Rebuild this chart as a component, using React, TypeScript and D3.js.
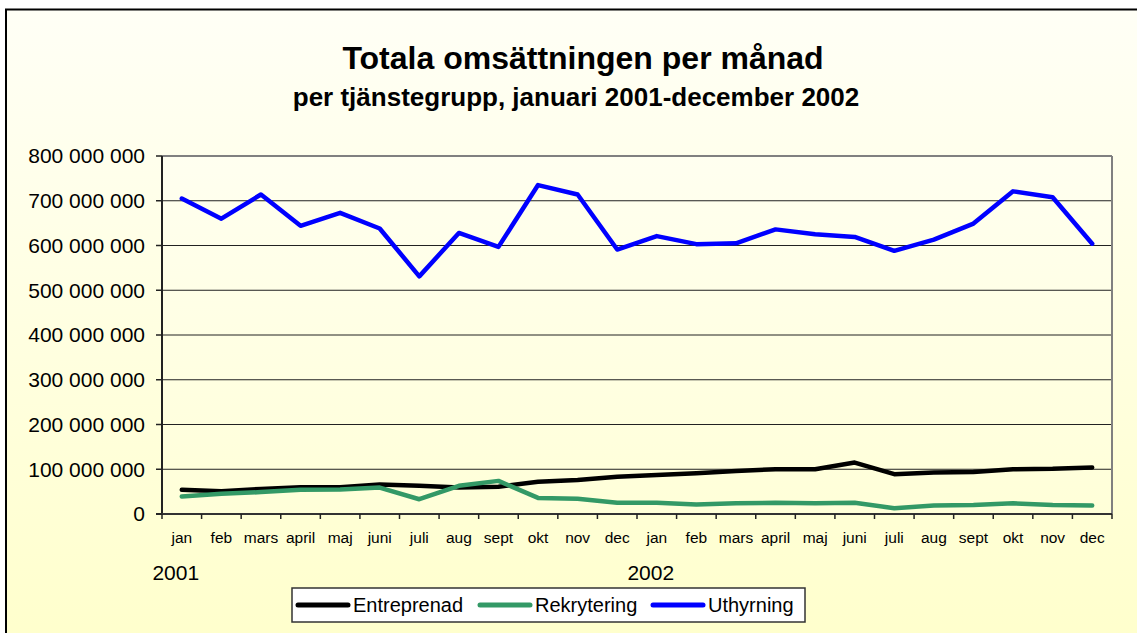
import * as d3 from "d3";

// Month labels for one year; the x axis repeats them for 2001 and 2002
const months = ["jan", "feb", "mars", "april", "maj", "juni", "juli", "aug", "sept", "okt", "nov", "dec"];
const years = ["2001", "2002"];

// Monthly turnover (SEK), jan 2001 - dec 2002
const entreprenad = [
  54e6, 51e6, 56e6, 60e6, 60e6, 66e6, 63e6, 59e6, 61e6, 72e6, 76e6, 83e6,
  87e6, 91e6, 96e6, 100e6, 100e6, 115e6, 89e6, 93e6, 94e6, 100e6, 101e6, 104e6,
];
const rekrytering = [
  39e6, 45e6, 49e6, 54e6, 55e6, 59e6, 33e6, 63e6, 74e6, 36e6, 34e6, 25e6,
  25e6, 21e6, 24e6, 25e6, 24e6, 25e6, 13e6, 19e6, 20e6, 24e6, 20e6, 19e6,
];
const uthyrning = [
  705e6, 660e6, 714e6, 644e6, 673e6, 638e6, 531e6, 628e6, 597e6, 735e6, 714e6, 591e6,
  621e6, 603e6, 605e6, 636e6, 625e6, 619e6, 588e6, 613e6, 649e6, 721e6, 708e6, 604e6,
];

const seriesNames = ["Entreprenad", "Rekrytering", "Uthyrning"];
const seriesColors = ["#000000", "#339966", "#0000ff"];
const yTicks = [0, 100e6, 200e6, 300e6, 400e6, 500e6, 600e6, 700e6, 800e6];

const W = 1137;
const H = 633;
const plot = { left: 162, right: 1112, top: 156, bottom: 514 };
const FONT = "'Liberation Sans', Arial, Helvetica, sans-serif";

export default function App() {
  const keys = years.flatMap((y) => months.map((m) => `${y}-${m}`));

  const x = d3.scaleBand<string>().domain(keys).range([plot.left, plot.right]).padding(0);
  const y = d3.scaleLinear().domain([0, 800e6]).range([plot.bottom, plot.top]);

  const cx = (i: number) => (x(keys[i]) ?? 0) + x.bandwidth() / 2;
  const line = d3
    .line<number>()
    .x((_, i) => cx(i))
    .y((d) => y(d));

  const allSeries = [entreprenad, rekrytering, uthyrning];
  const fmt = (v: number) => d3.format(",")(v).replace(/,/g, " ");

  const legend = { x: 292, y: 588, w: 513, h: 34 };
  const legendItems = [298, 480, 653];

  return (
    <svg
      width={W}
      height={H}
      style={{ position: "absolute", left: 0, top: 0, display: "block" }}
      fontFamily={FONT}
    >
      <defs>
        <linearGradient id="bg" x1="0" y1="0" x2="0" y2="1">
          <stop offset="0%" stopColor="#fffff6" />
          <stop offset="100%" stopColor="#ffffcc" />
        </linearGradient>
        <linearGradient id="plotbg" x1="0" y1="0" x2="0" y2="1">
          <stop offset="0%" stopColor="#fffff0" />
          <stop offset="100%" stopColor="#ffffd8" />
        </linearGradient>
      </defs>
      <rect x={0} y={0} width={W} height={H} fill="#ffffff" />
      <rect x={6} y={9.5} width={W + 10} height={H} fill="url(#bg)" stroke="#000" strokeWidth={2} />

      <text x={583} y={69} textAnchor="middle" fontSize={32} fontWeight="bold" fill="#000">
        Totala omsättningen per månad
      </text>
      <text x={576} y={106} textAnchor="middle" fontSize={26} fontWeight="bold" fill="#000">
        per tjänstegrupp, januari 2001-december 2002
      </text>

      {/* plot area */}
      <rect
        x={plot.left}
        y={plot.top}
        width={plot.right - plot.left}
        height={plot.bottom - plot.top}
        fill="url(#plotbg)"
      />
      {yTicks.slice(1, -1).map((t) => (
        <line key={t} x1={plot.left} x2={plot.right} y1={y(t)} y2={y(t)} stroke="#222" strokeWidth={1} />
      ))}
      <line x1={plot.left} x2={plot.right} y1={plot.top} y2={plot.top} stroke="#808080" strokeWidth={2} />
      <line x1={plot.right} x2={plot.right} y1={plot.top} y2={plot.bottom} stroke="#808080" strokeWidth={2} />
      <line x1={plot.left} x2={plot.left} y1={plot.top} y2={plot.bottom} stroke="#222" strokeWidth={2} />
      <line x1={plot.left - 6} x2={plot.right} y1={plot.bottom} y2={plot.bottom} stroke="#333" strokeWidth={2} />

      {/* y axis */}
      {yTicks.map((t) => (
        <g key={t}>
          <line x1={plot.left - 6} x2={plot.left} y1={y(t)} y2={y(t)} stroke="#222" strokeWidth={1.5} />
          <text x={145} y={y(t)} dy="0.35em" textAnchor="end" fontSize={21} fill="#000">
            {fmt(t)}
          </text>
        </g>
      ))}

      {/* x axis */}
      {keys.map((k) => (
        <line
          key={`t-${k}`}
          x1={x(k)}
          x2={x(k)}
          y1={plot.bottom}
          y2={plot.bottom + 5}
          stroke="#222"
          strokeWidth={1.5}
        />
      ))}
      <line x1={plot.right} x2={plot.right} y1={plot.bottom} y2={plot.bottom + 5} stroke="#222" strokeWidth={1.5} />
      {keys.map((k, i) => (
        <text key={`l-${k}`} x={cx(i)} y={543} textAnchor="middle" fontSize={15.5} fill="#000">
          {months[i % 12]}
        </text>
      ))}
      {years.map((yr, j) => (
        <text key={yr} x={cx(j * 12) - 6} y={580} textAnchor="middle" fontSize={21} fill="#000">
          {yr}
        </text>
      ))}

      {/* series */}
      {allSeries.map((s, i) => (
        <path
          key={seriesNames[i]}
          d={line(s) ?? ""}
          fill="none"
          stroke={seriesColors[i]}
          strokeWidth={4.5}
          strokeLinejoin="round"
          strokeLinecap="round"
        />
      ))}

      {/* legend */}
      <rect x={legend.x} y={legend.y} width={legend.w} height={legend.h} fill="#fff" stroke="#333" strokeWidth={1.5} />
      {seriesNames.map((n, i) => (
        <g key={n}>
          <line
            x1={legendItems[i]}
            x2={legendItems[i] + 50}
            y1={legend.y + legend.h / 2}
            y2={legend.y + legend.h / 2}
            stroke={seriesColors[i]}
            strokeWidth={5}
            strokeLinecap="round"
          />
          <text x={legendItems[i] + 55} y={legend.y + legend.h / 2} dy="0.35em" fontSize={20} fill="#000">
            {n}
          </text>
        </g>
      ))}
    </svg>
  );
}
